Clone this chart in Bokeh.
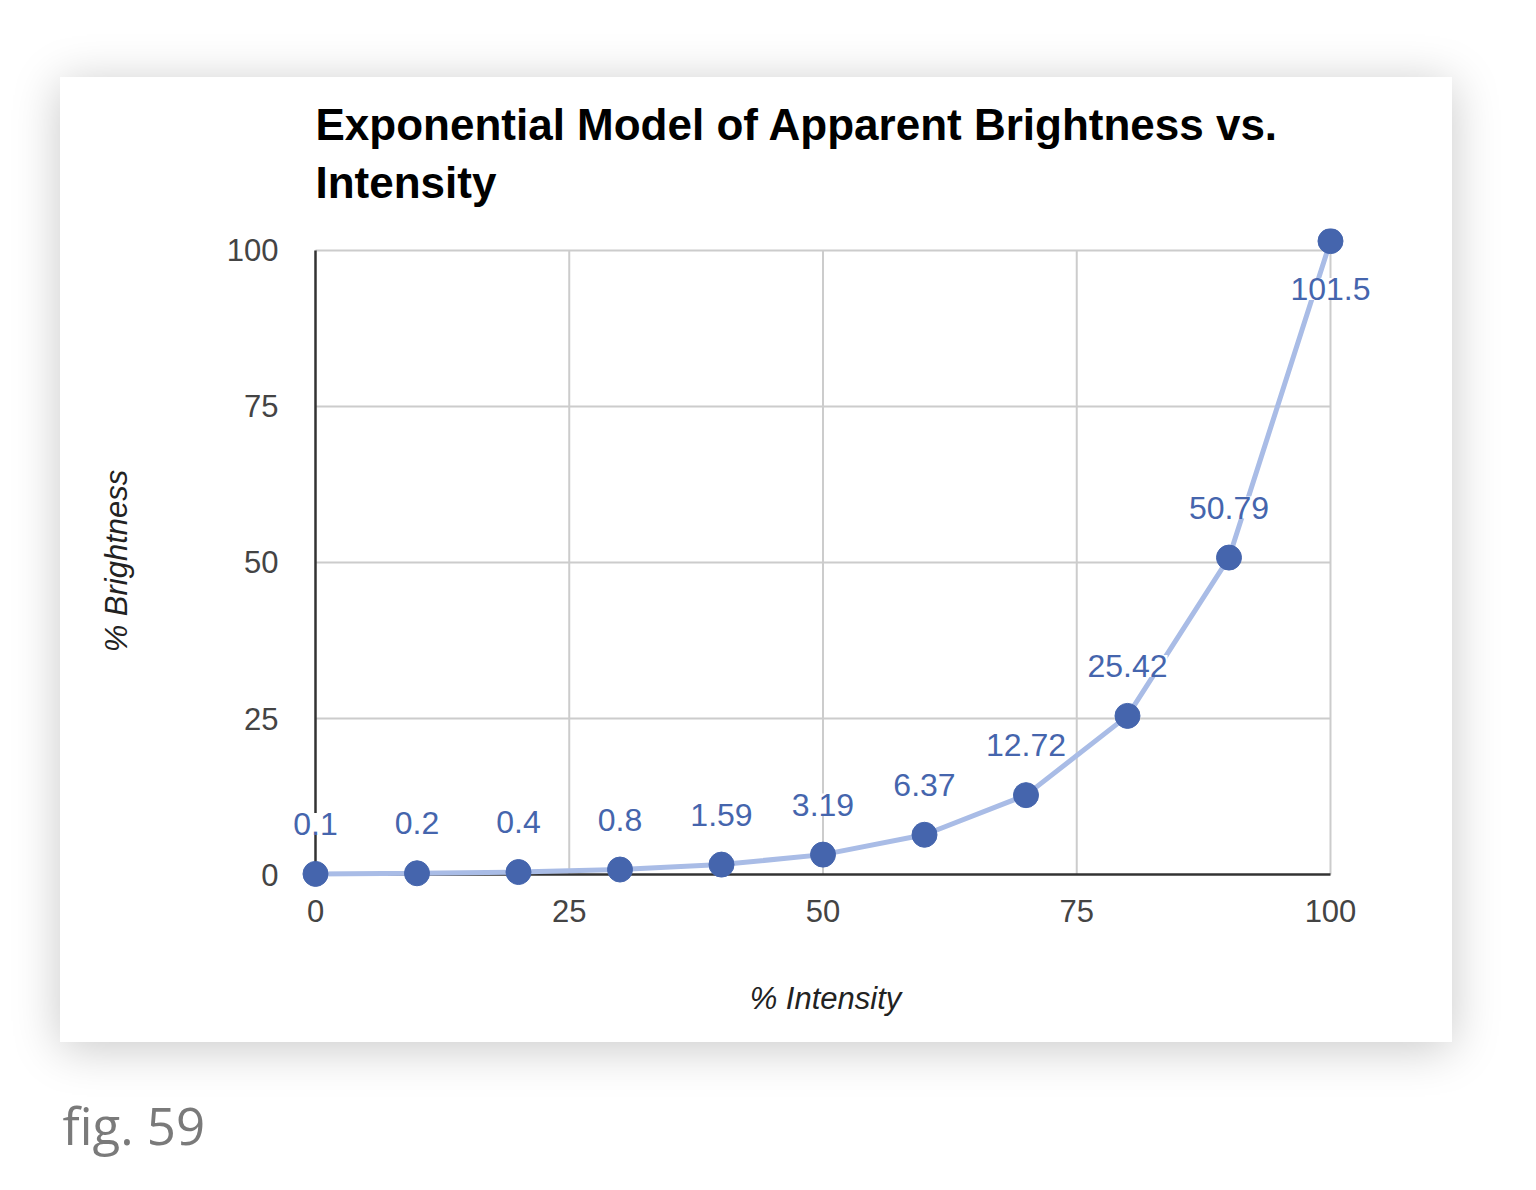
from bokeh.plotting import figure
from bokeh.layouts import column
from bokeh.models import Range1d, FixedTicker, Label, ColumnDataSource
from bokeh.embed import file_html
from bokeh.resources import INLINE
from bokeh.core.properties import value

# ---- data ----
intensity = [0, 10, 20, 30, 40, 50, 60, 70, 80, 90, 100]
brightness = [0.1, 0.2, 0.4, 0.8, 1.59, 3.19, 6.37, 12.72, 25.42, 50.79, 101.5]
value_labels = ["0.1", "0.2", "0.4", "0.8", "1.59", "3.19", "6.37", "12.72", "25.42", "50.79", "101.5"]
x_ticks = [0, 25, 50, 75, 100]
y_ticks = [0, 25, 50, 75, 100]
chart_title = "Exponential Model of Apparent Brightness vs.\nIntensity"
x_title = "% Intensity"
y_title = "% Brightness"
caption = "fig. 59"

FONT = "Liberation Sans"
BLUE = "#4565ad"
LINE_BLUE = "#a9bce6"

src = ColumnDataSource(dict(x=intensity, y=brightness, t=value_labels))
src_above = ColumnDataSource(dict(x=intensity[:-1], y=brightness[:-1], t=value_labels[:-1]))
src_below = ColumnDataSource(dict(x=intensity[-1:], y=brightness[-1:], t=value_labels[-1:]))

# card: page x 60-1452, y 77-1042 ; frame: x 278-1372, y 227-893
p = figure(width=1392, height=965, output_backend="svg", toolbar_location=None,
           x_range=Range1d(-3.645, 104.138), y_range=Range1d(-3.04, 103.52),
           min_border_left=218, min_border_right=80, min_border_top=150, min_border_bottom=149,
           margin=(77, 0, 0, 60), frame_align=False,
           styles={"box-shadow": "0px 6px 45px rgba(0,0,0,0.22)"})
p.grid.visible = False
p.outline_line_color = None
p.background_fill_color = "white"
p.border_fill_color = "white"

p.title.text = chart_title
p.title.align = "left"
p.title.offset = 37
p.title.text_font = FONT
p.title.text_font_size = "44px"
p.title.text_font_style = "bold"
p.title.text_color = "#000000"
p.title.text_line_height = 1.184
p.title.standoff = 42

for ax in (p.xaxis, p.yaxis):
    ax.axis_line_color = None
    ax.major_tick_out = 0
    ax.major_tick_in = 0
    ax.minor_tick_out = 0
    ax.minor_tick_in = 0
    ax.major_label_text_font = FONT
    ax.major_label_text_font_size = "31px"
    ax.major_label_text_color = "#444444"
    ax.axis_label_text_font = FONT
    ax.axis_label_text_font_size = "31px"
    ax.axis_label_text_font_style = "italic"
    ax.axis_label_text_color = "#222222"
p.xaxis.ticker = FixedTicker(ticks=x_ticks)
p.yaxis.ticker = FixedTicker(ticks=y_ticks)
p.xaxis.major_label_standoff = 6
p.yaxis.major_label_standoff = 0
p.xaxis.axis_label = x_title
p.yaxis.axis_label = y_title
p.xaxis.axis_label_standoff = 56
p.yaxis.axis_label_standoff = 90

# grid lines
gx = x_ticks[1:]
p.segment(x0=gx, x1=gx, y0=[y_ticks[0]] * len(gx), y1=[y_ticks[-1]] * len(gx), line_color="#cccccc", line_width=2)
gy = y_ticks[1:]
p.segment(x0=[x_ticks[0]] * len(gy), x1=[x_ticks[-1]] * len(gy), y0=gy, y1=gy, line_color="#cccccc", line_width=2)
# baseline axes
p.segment(x0=[x_ticks[0]], x1=[x_ticks[0]], y0=[y_ticks[0]], y1=[y_ticks[-1]], line_color="#333333", line_width=2.5)
p.segment(x0=[x_ticks[0]], x1=[x_ticks[-1]], y0=[y_ticks[0]], y1=[y_ticks[0]], line_color="#333333", line_width=2.5)

# series
p.line("x", "y", source=src, line_color=LINE_BLUE, line_width=5)
p.scatter("x", "y", source=src, size=25, fill_color=BLUE, line_color=BLUE)

p.text("x", "y", text="t", source=src_above, text_font=value(FONT), text_font_size="32px",
       text_color=BLUE, text_align="center", text_baseline="middle", y_offset=-50,
       background_fill_color="white")
p.text("x", "y", text="t", source=src_below, text_font=value(FONT), text_font_size="32px",
       text_color=BLUE, text_align="center", text_baseline="middle", y_offset=48,
       background_fill_color="white")

# caption figure below the card
c = figure(width=320, height=140, output_backend="svg", toolbar_location=None, title=None,
           x_axis_location=None, y_axis_location=None,
           x_range=Range1d(0, 320), y_range=Range1d(0, 140),
           min_border=0, margin=(0, 0, 0, 60), frame_align=False)
c.grid.visible = False
c.outline_line_color = None
c.background_fill_color = None
c.border_fill_color = None
c.add_layout(Label(x=2, y=58, text=caption, text_font="Open Sans", text_font_size="51px",
                   text_color="#7a7a7a", text_baseline="alphabetic"))

layout = column(p, c, spacing=0)
open("out.html", "w").write(file_html(layout, INLINE))
